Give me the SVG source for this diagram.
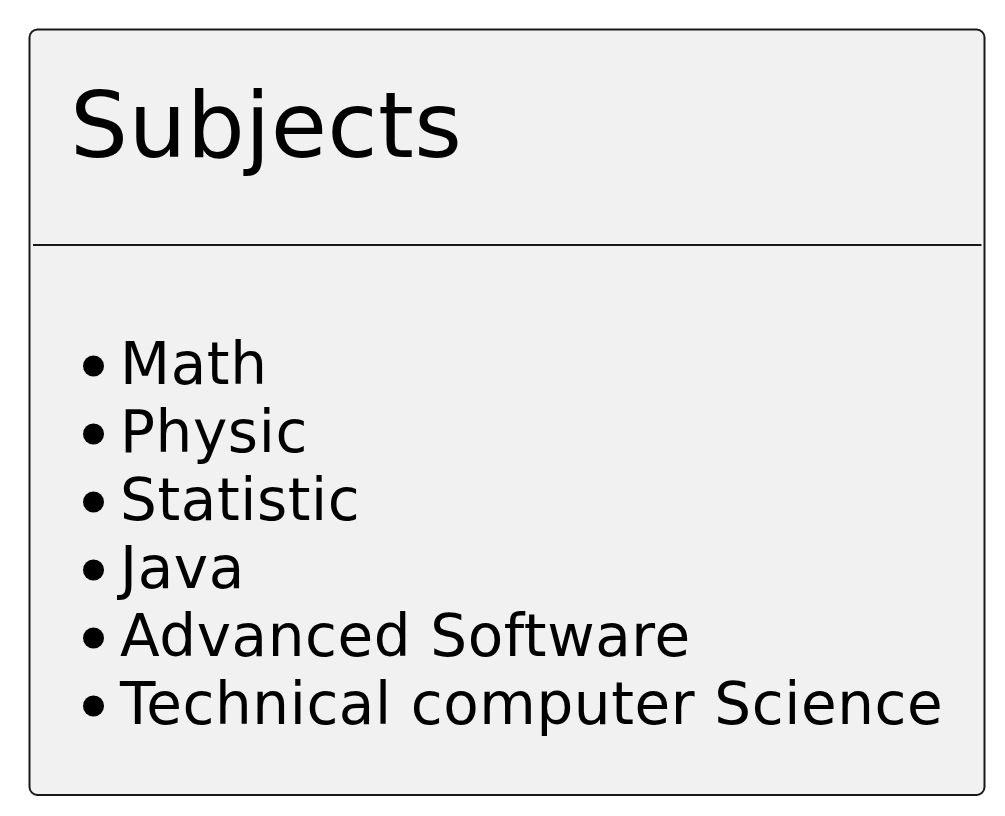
<svg xmlns="http://www.w3.org/2000/svg" width="1005" height="816" viewBox="0 0 1005 816">
<style>
.box{fill:#F1F1F1;stroke:#181818;stroke-width:2}
.sep{stroke:#181818;stroke-width:2}
.title{font-family:"DejaVu Sans",sans-serif;font-size:91.5px;letter-spacing:0.3px;fill:#000}
.item{font-family:"DejaVu Sans",sans-serif;font-size:58px;letter-spacing:0.6px;fill:#000}
.dot{fill:#000}
</style>
<rect width="1005" height="816" fill="#FFFFFF"/>
<g id="node-subjects">
<rect class="box" x="29.5" y="29.5" width="955" height="765.5" rx="8" ry="8"/>
<text class="title" x="70" y="157">Subjects</text>
<line class="sep" x1="33" y1="245" x2="981.5" y2="245"/>
<circle class="dot" cx="93.5" cy="366" r="10.5"/>
<text class="item" x="120" y="383.5">Math</text>
<circle class="dot" cx="93.5" cy="434" r="10.5"/>
<text class="item" x="120" y="451.5">Physic</text>
<circle class="dot" cx="93.5" cy="502" r="10.5"/>
<text class="item" x="120" y="519.5">Statistic</text>
<circle class="dot" cx="93.5" cy="570" r="10.5"/>
<text class="item" x="120" y="587.5">Java</text>
<circle class="dot" cx="93.5" cy="638" r="10.5"/>
<text class="item" x="120" y="655.5">Advanced Software</text>
<circle class="dot" cx="93.5" cy="706" r="10.5"/>
<text class="item" x="120" y="723.5">Technical computer Science</text>
</g>
<g id="connectors"/>
</svg>
